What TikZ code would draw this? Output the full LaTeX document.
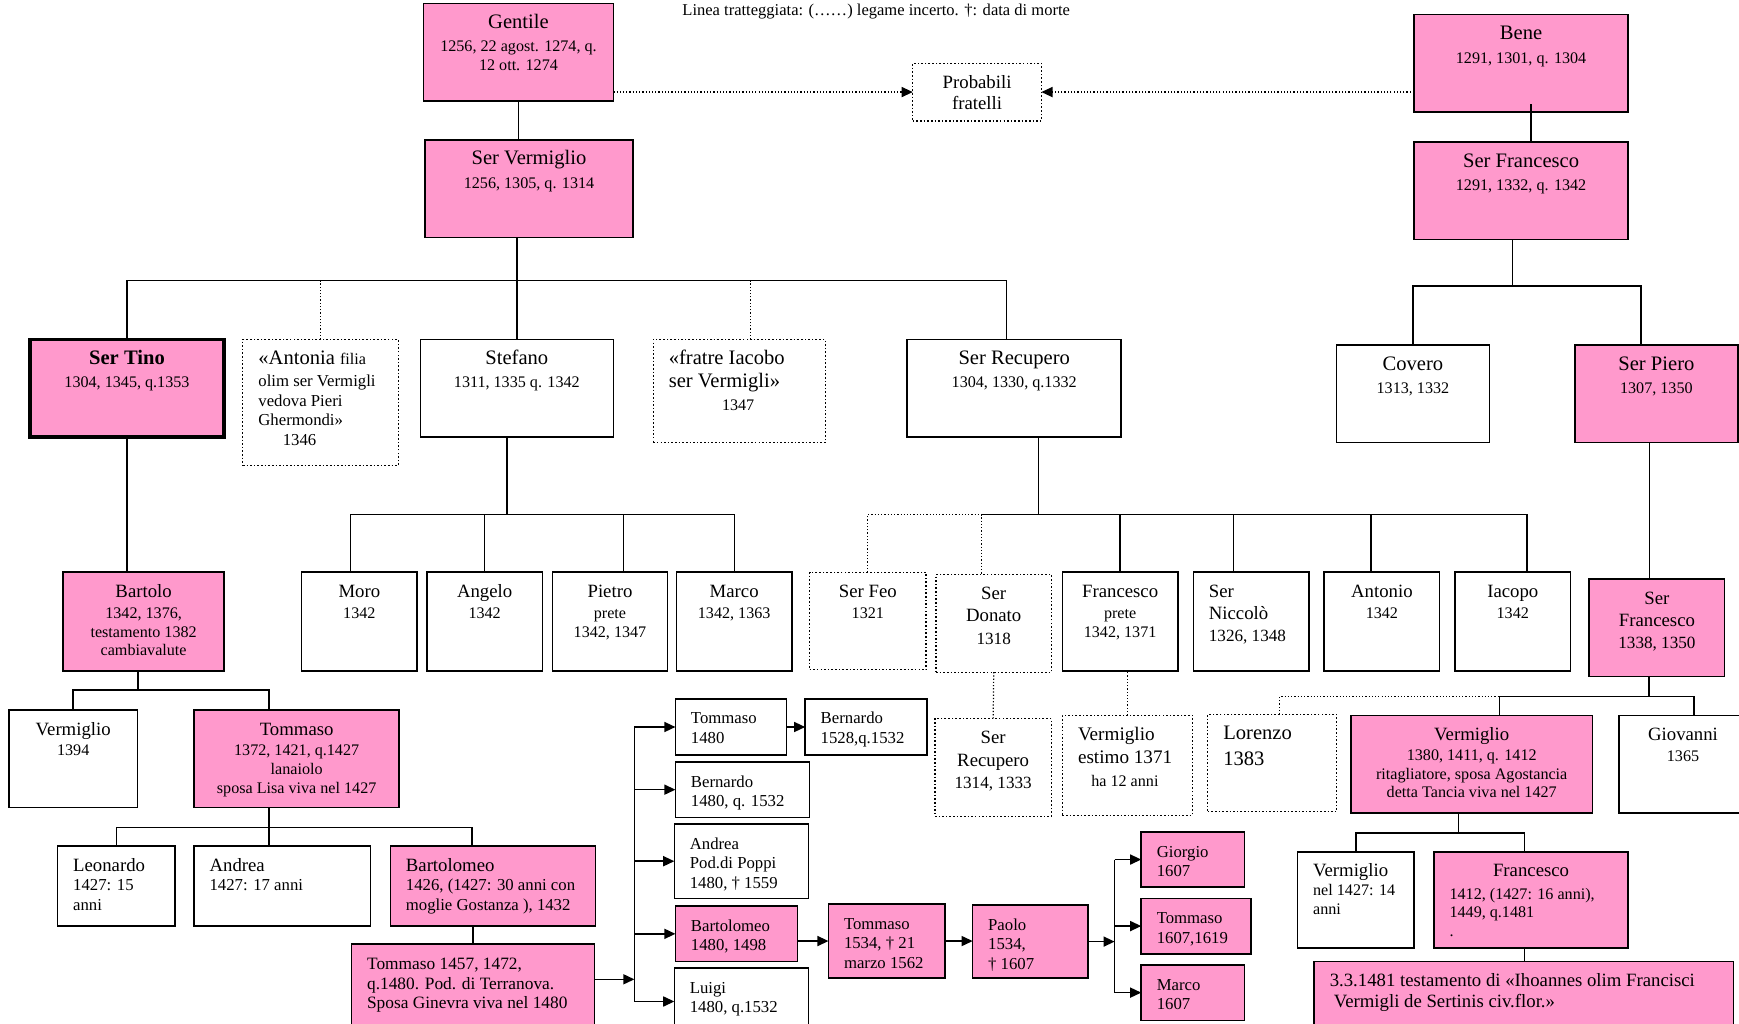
\documentclass[tikz,border=0pt]{standalone}
\usepackage{fontspec}
\setmainfont{Liberation Serif}
\usetikzlibrary{arrows.meta, positioning}

\definecolor{rosa}{HTML}{FF99CC}
\newlength{\upx}\setlength{\upx}{0.55pt}
\newcommand{\nmf}{\fontsize{10.2}{11.5}\selectfont}
\newcommand{\nmb}{\fontsize{9.3}{11}\selectfont}
\newcommand{\dtf}{\fontsize{8}{9.3}\selectfont}
\newcommand{\lwf}{\fontsize{8.3}{9.7}\selectfont}
\newcommand{\ctr}{\centering\rule{0pt}{12.5pt}}
\newcommand{\lft}{\raggedright\leftskip=14\upx\rule{0pt}{12.5pt}}
\newcommand{\fcell}[3]{\parbox[c][#2\upx][t]{#1\upx}{#3}}

\begin{document}
\begin{tikzpicture}[x=0.55pt, y=-0.55pt,
	box/.style={draw, line width=0.8pt, inner sep=0pt, outer sep=0pt, anchor=north west},
	pk/.style={box, fill=rosa},
	dbox/.style={box, densely dotted, line width=0.6pt},
	tie/.style={line width=0.7pt},
	unsure/.style={densely dotted, line width=0.6pt},
	arr/.style={tie, -{Triangle[length=5.5pt, width=5pt]}},
	uarr/.style={unsure, -{Triangle[length=5.5pt, width=5pt]}}]
	
	\useasboundingbox (0,0) rectangle (1568,923);
	
	\node[font=\fontsize{8.2}{9}\selectfont, anchor=base] (legend) at (790,14) {Linea tratteggiata: (……) legame incerto. †: data di morte};
	
	% first generations
	\node[pk] (gent) at (382,3) {\fcell{171}{88}{\ctr\nmf Gentile\\[2.3pt]\dtf 1256, 22 agost. 1274, q.\\12 ott. 1274}};
	\node[dbox] (prob) at (823,57) {\fcell{116}{52}{\ctr\fontsize{9.3}{10.5}\selectfont Probabili\\fratelli}};
	\node[pk] (bene) at (1275,13) {\fcell{193}{88}{\ctr\nmf Bene\\[2.3pt]\dtf 1291, 1301, q. 1304}};
	\node[pk] (sv) at (383,126) {\fcell{188}{88}{\ctr\nmf Ser Vermiglio\\[2.3pt]\dtf 1256, 1305, q. 1314}};
	\node[pk] (sfr) at (1275,128) {\fcell{193}{88}{\ctr\nmf Ser Francesco\\[2.3pt]\dtf 1291, 1332, q. 1342}};
	
	\node[pk, line width=1.7pt] (tino) at (27,306) {\fcell{175}{88}{\ctr\nmf\textbf{Ser Tino}\\[2.3pt]\dtf 1304, 1345, q.1353}};
	\node[dbox] (anton) at (219,306) {\fcell{140}{114}{\lft{\nmf «Antonia} {\dtf filia}\\[1.3pt]\lwf olim ser Vermigli\\vedova Pieri\\Ghermondi»\\\hspace*{22\upx}1346}};
	\node[box] (stef) at (379,306) {\fcell{174}{88}{\ctr\nmf Stefano\\[2.3pt]\dtf 1311, 1335 q. 1342}};
	\node[dbox] (iac) at (589,306) {\fcell{155}{93}{\lft\nmf «fratre Iacobo\\ser Vermigli»\\\hspace*{48\upx}{\dtf 1347}}};
	\node[box] (recup) at (818,306) {\fcell{193}{88}{\ctr\nmf Ser Recupero\\[2.3pt]\dtf 1304, 1330, q.1332}};
	\node[box] (cov) at (1205,311) {\fcell{138}{88}{\ctr\nmf Covero\\[2.3pt]\dtf 1313, 1332}};
	\node[pk] (piero) at (1420,311) {\fcell{147}{88}{\ctr\nmf Ser Piero\\[2.3pt]\dtf 1307, 1350}};
	
	% third row
	\node[pk] (bart) at (57,516) {\fcell{145}{89}{\ctr\nmb Bartolo\\[1pt]\dtf 1342, 1376,\\testamento 1382\\cambiavalute}};
	\node[box] (moro) at (272,516) {\fcell{104}{89}{\ctr\nmb Moro\\[1pt]\dtf 1342}};
	\node[box] (ang) at (385,516) {\fcell{104}{89}{\ctr\nmb Angelo\\[1pt]\dtf 1342}};
	\node[box] (pietro) at (498,516) {\fcell{104}{89}{\ctr\nmb Pietro\\[1pt]\dtf prete\\1342, 1347}};
	\node[box] (marco) at (610,516) {\fcell{104}{89}{\ctr\nmb Marco\\[1pt]\dtf 1342, 1363}};
	\node[dbox] (feo) at (730,516) {\fcell{105}{88}{\ctr\nmb Ser Feo\\[1pt]\dtf 1321}};
	\node[dbox] (donato) at (844,518) {\fcell{104}{88}{\ctr\nmb Ser\\Donato\\{\fontsize{8.5}{10}\selectfont 1318}}};
	\node[box] (fprete) at (958,516) {\fcell{104}{89}{\ctr\nmb Francesco\\[1pt]\dtf prete\\1342, 1371}};
	\node[box] (nicc) at (1076,516) {\fcell{104}{89}{\lft\nmb Ser\\Niccolò\\{\fontsize{8.5}{10}\selectfont 1326, 1348}}};
	\node[box] (antonio) at (1194,516) {\fcell{104}{89}{\ctr\nmb Antonio\\[1pt]\dtf 1342}};
	\node[box] (iacopo) at (1312,516) {\fcell{104}{89}{\ctr\nmb Iacopo\\[1pt]\dtf 1342}};
	\node[pk] (sfr2) at (1433,522) {\fcell{122}{88}{\ctr\nmb Ser\\Francesco\\{\fontsize{8.5}{10}\selectfont 1338, 1350}}};
	
	% fourth row
	\node[box] (verm1) at (8,640) {\fcell{116}{88}{\ctr\nmb Vermiglio\\[1pt]\dtf 1394}};
	\node[pk] (tom1) at (175,640) {\fcell{185}{88}{\ctr\nmb Tommaso\\[1pt]\dtf 1372, 1421, q.1427\\lanaiolo\\sposa Lisa viva nel 1427}};
	\node[dbox] (recup2) at (843,648) {\fcell{105}{88}{\ctr\nmb Ser\\Recupero\\{\fontsize{8.5}{10}\selectfont 1314, 1333}}};
	\node[dbox] (vest) at (958,645) {\fcell{117}{90}{\lft\fontsize{9.5}{11.3}\selectfont Vermiglio\\estimo 1371\\\hspace*{12\upx}{\dtf ha 12 anni}}};
	\node[dbox] (lor) at (1089,644) {\fcell{116}{88}{\lft\fontsize{10.2}{12.7}\selectfont Lorenzo\\1383}};
	\node[pk] (verm2) at (1218,645) {\fcell{218}{88}{\ctr\nmb Vermiglio\\[0.5pt]\dtf 1380, 1411, q. 1412\\ritagliatore, sposa Agostancia\\detta Tancia viva nel 1427}};
	\node[box] (giov) at (1460,645) {\fcell{115}{88}{\ctr\nmb Giovanni\\[1pt]\dtf 1365}};
	
	% Tommaso's sons
	\node[box] (leo) at (52,763) {\fcell{106}{72}{\lft\nmb Leonardo\\\lwf 1427: 15\\anni}};
	\node[box] (andr) at (175,763) {\fcell{159}{72}{\lft\nmb Andrea\\\lwf 1427: 17 anni}};
	\node[pk] (bartm) at (352,763) {\fcell{185}{72}{\lft\nmb Bartolomeo\\\lwf 1426, (1427: 30 anni con\\moglie Gostanza ), 1432}};
	\node[pk] (tom2) at (317,851) {\fcell{219}{80}{\lft\fontsize{8.6}{9.9}\selectfont Tommaso 1457, 1472,\\q.1480. Pod. di Terranova.\\Sposa Ginevra viva nel 1480}};
	
	% later descendants
	\node[box] (tom3) at (609,630) {\fcell{100}{51}{\lft\lwf Tommaso\\1480}};
	\node[box] (bern1) at (726,630) {\fcell{110}{51}{\lft\lwf Bernardo\\1528,q.1532}};
	\node[box] (bern2) at (609,687) {\fcell{121}{50}{\lft\lwf Bernardo\\1480, q. 1532}};
	\node[box] (andr2) at (608,743) {\fcell{121}{67}{\lft\lwf Andrea\\Pod.di Poppi\\1480, † 1559}};
	\node[pk] (bartm2) at (609,817) {\fcell{110}{50}{\lft\lwf Bartolomeo\\1480, 1498}};
	\node[box] (luigi) at (608,873) {\fcell{121}{60}{\lft\lwf Luigi\\1480, q.1532}};
	\node[pk] (tom4) at (747,815) {\fcell{105}{67}{\lft\lwf Tommaso\\1534, † 21\\marzo 1562}};
	\node[pk] (paolo) at (877,816) {\fcell{104}{66}{\lft\lwf Paolo\\1534,\\† 1607}};
	\node[pk] (gio) at (1029,750) {\fcell{93}{50}{\lft\lwf Giorgio\\1607}};
	\node[pk] (tom5) at (1029,810) {\fcell{99}{50}{\lft\lwf Tommaso\\1607,1619}};
	\node[pk] (marco2) at (1029,870) {\fcell{93}{50}{\lft\lwf Marco\\1607}};
	
	\node[box] (verm3) at (1170,768) {\fcell{105}{87}{\lft\nmb Vermiglio\\\dtf nel 1427: 14\\anni}};
	\node[pk] (fran3) at (1293,768) {\fcell{175}{87}{{\ctr\nmb Francesco\par}\vspace{1.7pt}\raggedright\leftskip=14\upx\dtf 1412, (1427: 16 anni),\\1449, q.1481\\.}};
	\node[pk] (test) at (1185,867) {\fcell{378}{70}{\lft\fontsize{9.3}{10.5}\selectfont 3.3.1481 testamento di «Ihoannes olim Francisci\\\hspace*{2pt}Vermigli de Sertinis civ.flor.»}};
	
	% Gentile and Bene
	\draw[tie] (gent.south) -- (gent.south |- sv.north);
	\draw[uarr] (gent.east |- prob.west) -- (prob.west);
	\draw[uarr] (bene.west |- prob.east) -- (prob.east);
	\draw[tie] ([xshift=9\upx, yshift=7\upx]bene.south) -- ([xshift=9\upx]sfr.north);
	
	% children of Ser Vermiglio
	\coordinate (b1) at (0,253);
	\coordinate (rc) at ([xshift=-7\upx]recup.north);
	\coordinate (ic) at ([xshift=10\upx]iac.north);
	\draw[tie] (sv.south -| stef.north) -- (stef.north);
	\draw[tie] (tino.north) |- (b1 -| rc) -- (rc);
	\draw[unsure] (anton.north) -- (anton.north |- b1);
	\draw[unsure] (ic) -- (ic |- b1);
	
	% children of Ser Francesco
	\coordinate (b2) at (0,258);
	\coordinate (pr) at ([xshift=-14\upx]piero.north);
	\draw[tie] ([xshift=-8\upx]sfr.south) -- ++(0,42);
	\draw[tie] (cov.north) |- (pr |- b2) -- (pr);
	\draw[tie] ([xshift=-6\upx]piero.south) -- ++(0,123);
	
	\draw[tie] (tino.south) -- (tino.south |- bart.north);
	
	% children of Stefano
	\coordinate (b3) at (0,464);
	\draw[tie] ([xshift=-9\upx]stef.south) -- ++(0,70);
	\draw[tie] ([xshift=-8\upx]moro.north) |- (b3 -| marco.north) -- (marco.north);
	\draw[tie] (ang.north) -- (ang.north |- b3);
	\draw[tie] ([xshift=12\upx]pietro.north) -- ++(0,-52);
	
	% children of Ser Recupero
	\coordinate (dn) at ([xshift=-11\upx]donato.north);
	\coordinate (ip) at ([xshift=13\upx]iacopo.north);
	\draw[tie] ([xshift=22\upx]recup.south) -- ++(0,70);
	\draw[unsure] (feo.north) |- (dn |- b3) -- (dn);
	\draw[tie] (dn |- b3) -| (ip);
	\draw[tie] (fprete.north) -- (fprete.north |- b3);
	\draw[tie] ([xshift=-16\upx]nicc.north) -- ++(0,-52);
	\draw[tie] ([xshift=-10\upx]antonio.north) -- ++(0,-52);
	\draw[unsure] (donato.south) -- (recup2.north);
	\draw[unsure] (vest.north) -- (vest.north |- fprete.south);
	
	% Bartolo and Tommaso
	\coordinate (b4) at (0,622);
	\coordinate (tm) at ([xshift=-25\upx]tom1.north);
	\draw[tie] ([xshift=-5\upx]bart.south) -- ++(0,17);
	\draw[tie] (verm1.north) |- (tm |- b4) -- (tm);
	
	\coordinate (b5) at (0,746);
	\coordinate (bm) at ([xshift=-19\upx]bartm.north);
	\draw[tie] ([xshift=-25\upx]tom1.south) -- ++(0,18);
	\draw[tie] (leo.north) |- (bm |- b5) -- (bm);
	\draw[tie] ([xshift=-12\upx]andr.north) -- ++(0,-17);
	\draw[tie] (tom2.north) -- (tom2.north |- bartm.south);
	
	% sons of Tommaso 1457
	\coordinate (t2) at ([yshift=8\upx]tom2.east);
	\coordinate (sp) at ([xshift=36\upx]tom2.east);
	\draw[arr] (t2) -- (sp |- t2);
	\draw[tie] (sp |- tom3.west) -- (sp |- luigi.west);
	\draw[arr] (sp |- tom3.west) -- (tom3.west);
	\draw[arr] (sp |- bern2.west) -- (bern2.west);
	\draw[arr] (sp |- andr2.west) -- (andr2.west);
	\draw[arr] (sp |- bartm2.west) -- (bartm2.west);
	\draw[arr] (sp |- luigi.west) -- (luigi.west);
	\draw[arr] (tom3.east) -- (bern1.west);
	\draw[arr] (bartm2.east |- tom4.west) -- (tom4.west);
	\draw[arr] (tom4.east) -- (paolo.west |- tom4.east);
	
	\coordinate (sq) at ([xshift=24\upx]paolo.east);
	\draw[arr] (paolo.east) -- (sq);
	\draw[tie] (sq |- gio.west) -- (sq |- marco2.west);
	\draw[arr] (sq |- gio.west) -- (gio.west);
	\draw[arr] (sq |- tom5.west) -- (tom5.west);
	\draw[arr] (sq |- marco2.west) -- (marco2.west);
	
	% children of Ser Francesco 1338
	\coordinate (b6) at (0,628);
	\coordinate (v2) at ([xshift=25\upx]verm2.north);
	\coordinate (gv) at ([xshift=10\upx]giov.north);
	\draw[tie] ([xshift=-7\upx]sfr2.south) -- ++(0,18);
	\draw[tie] (v2) |- (gv |- b6) -- (gv);
	\draw[unsure] ([xshift=7\upx]lor.north) |- (v2 |- b6);
	
	% children of Vermiglio 1380
	\coordinate (b7) at (0,751);
	\coordinate (f3) at ([xshift=-6\upx]fran3.north);
	\draw[tie] ([xshift=-12\upx]verm2.south) -- ++(0,18);
	\draw[tie] (verm3.north) |- (f3 |- b7) -- (f3);
	\draw[tie] (f3 |- fran3.south) -- (f3 |- test.north);
	
\end{tikzpicture}
\end{document}
